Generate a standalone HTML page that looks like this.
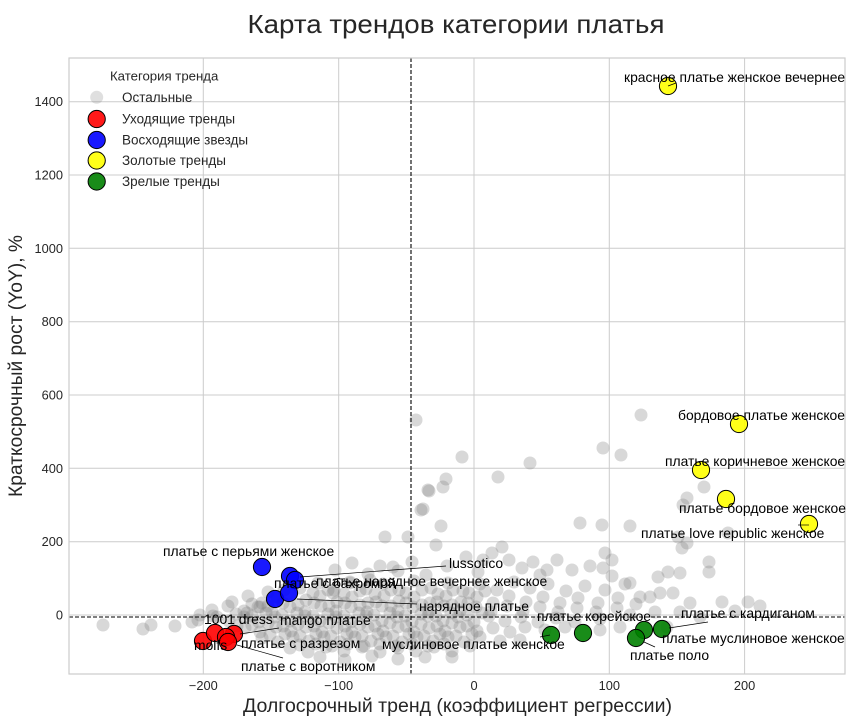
<!DOCTYPE html>
<html>
<head>
<meta charset="utf-8">
<style>
  html,body{margin:0;padding:0;background:#fff;}
  svg{display:block;}
  text{font-family:"Liberation Sans",Arial,sans-serif;}
</style>
</head>
<body>
<svg width="854" height="726" viewBox="0 0 854 726" xmlns="http://www.w3.org/2000/svg">
<rect width="854" height="726" fill="#ffffff"/>

<!-- Title -->
<text x="456" y="33" font-size="26" text-anchor="middle" fill="#262626" textLength="417" lengthAdjust="spacingAndGlyphs">Карта трендов категории платья</text>

<!-- Grid -->
<g stroke="#cccccc" stroke-width="1">
  <line x1="203.3" y1="58" x2="203.3" y2="674"/>
  <line x1="338.7" y1="58" x2="338.7" y2="674"/>
  <line x1="474" y1="58" x2="474" y2="674"/>
  <line x1="609.3" y1="58" x2="609.3" y2="674"/>
  <line x1="744.6" y1="58" x2="744.6" y2="674"/>
  <line x1="69" y1="615" x2="845" y2="615"/>
  <line x1="69" y1="541.7" x2="845" y2="541.7"/>
  <line x1="69" y1="468.3" x2="845" y2="468.3"/>
  <line x1="69" y1="395" x2="845" y2="395"/>
  <line x1="69" y1="321.7" x2="845" y2="321.7"/>
  <line x1="69" y1="248.3" x2="845" y2="248.3"/>
  <line x1="69" y1="175" x2="845" y2="175"/>
  <line x1="69" y1="101.7" x2="845" y2="101.7"/>
</g>

<defs><clipPath id="pa"><rect x="69" y="58" width="776" height="616"/></clipPath></defs>

<!-- Grey points -->
<g fill="#7f7f7f" fill-opacity="0.3" clip-path="url(#pa)">
<circle cx="416" cy="420" r="6.5"/><circle cx="641" cy="415" r="6.5"/><circle cx="603" cy="448" r="6.5"/><circle cx="621" cy="455" r="6.5"/>
<circle cx="462" cy="457" r="6.5"/><circle cx="530" cy="463" r="6.5"/><circle cx="498" cy="477" r="6.5"/><circle cx="446" cy="479" r="6.5"/>
<circle cx="443" cy="487" r="6.5"/><circle cx="429" cy="491" r="6.5"/><circle cx="423" cy="509" r="6.5"/><circle cx="441" cy="526" r="6.5"/>
<circle cx="385" cy="537" r="6.5"/><circle cx="408" cy="537" r="6.5"/><circle cx="436" cy="545" r="6.5"/><circle cx="502" cy="547" r="6.5"/>
<circle cx="580" cy="523" r="6.5"/><circle cx="602" cy="525" r="6.5"/><circle cx="630" cy="526" r="6.5"/><circle cx="704" cy="487" r="6.5"/>
<circle cx="687" cy="498" r="6.5"/><circle cx="683" cy="505" r="6.5"/><circle cx="728" cy="533" r="6.5"/><circle cx="687" cy="543" r="6.5"/>
<circle cx="678" cy="537" r="6.5"/><circle cx="682" cy="548" r="6.5"/><circle cx="605" cy="553" r="6.5"/><circle cx="612" cy="560" r="6.5"/>
<circle cx="603" cy="568" r="6.5"/><circle cx="709" cy="562" r="6.5"/><circle cx="709" cy="572" r="6.5"/><circle cx="658" cy="577" r="6.5"/>
<circle cx="668" cy="572" r="6.5"/><circle cx="680" cy="573" r="6.5"/><circle cx="748" cy="602" r="6.5"/><circle cx="722" cy="602" r="6.5"/>
<circle cx="630" cy="583" r="6.5"/><circle cx="660" cy="593" r="6.5"/><circle cx="673" cy="593" r="6.5"/><circle cx="640" cy="597" r="6.5"/>
<circle cx="690" cy="603" r="6.5"/><circle cx="650" cy="597" r="6.5"/><circle cx="557" cy="560" r="6.5"/><circle cx="533" cy="562" r="6.5"/>
<circle cx="547" cy="570" r="6.5"/><circle cx="483" cy="560" r="6.5"/><circle cx="421" cy="510" r="6.5"/><circle cx="393" cy="567" r="6.5"/>

<circle cx="335" cy="570" r="6.5"/><circle cx="352" cy="563" r="6.5"/><circle cx="368" cy="574" r="6.5"/><circle cx="380" cy="566" r="6.5"/>
<circle cx="398" cy="571" r="6.5"/><circle cx="412" cy="562" r="6.5"/><circle cx="426" cy="575" r="6.5"/><circle cx="447" cy="566" r="6.5"/>
<circle cx="466" cy="557" r="6.5"/><circle cx="478" cy="572" r="6.5"/><circle cx="492" cy="553" r="6.5"/><circle cx="509" cy="560" r="6.5"/>
<circle cx="522" cy="568" r="6.5"/><circle cx="540" cy="575" r="6.5"/><circle cx="572" cy="570" r="6.5"/><circle cx="590" cy="566" r="6.5"/>
<circle cx="612" cy="576" r="6.5"/>

<circle cx="300" cy="588" r="6.5"/><circle cx="318" cy="583" r="6.5"/><circle cx="334" cy="590" r="6.5"/><circle cx="350" cy="582" r="6.5"/>
<circle cx="366" cy="589" r="6.5"/><circle cx="383" cy="584" r="6.5"/><circle cx="399" cy="590" r="6.5"/><circle cx="414" cy="581" r="6.5"/>
<circle cx="431" cy="588" r="6.5"/><circle cx="448" cy="583" r="6.5"/><circle cx="463" cy="591" r="6.5"/><circle cx="480" cy="584" r="6.5"/>
<circle cx="497" cy="590" r="6.5"/><circle cx="514" cy="582" r="6.5"/><circle cx="530" cy="588" r="6.5"/><circle cx="548" cy="584" r="6.5"/>
<circle cx="566" cy="591" r="6.5"/><circle cx="585" cy="586" r="6.5"/><circle cx="605" cy="590" r="6.5"/><circle cx="625" cy="584" r="6.5"/>

<circle cx="232" cy="602" r="6.5"/><circle cx="248" cy="596" r="6.5"/><circle cx="262" cy="603" r="6.5"/><circle cx="277" cy="597" r="6.5"/>
<circle cx="306" cy="600" r="6.5"/><circle cx="320" cy="596" r="6.5"/><circle cx="337" cy="602" r="6.5"/><circle cx="352" cy="597" r="6.5"/>
<circle cx="368" cy="603" r="6.5"/><circle cx="384" cy="596" r="6.5"/><circle cx="399" cy="601" r="6.5"/><circle cx="414" cy="597" r="6.5"/>
<circle cx="430" cy="603" r="6.5"/><circle cx="446" cy="596" r="6.5"/><circle cx="461" cy="602" r="6.5"/><circle cx="477" cy="597" r="6.5"/>
<circle cx="493" cy="603" r="6.5"/><circle cx="509" cy="596" r="6.5"/><circle cx="526" cy="602" r="6.5"/><circle cx="543" cy="597" r="6.5"/>
<circle cx="560" cy="603" r="6.5"/><circle cx="578" cy="598" r="6.5"/><circle cx="598" cy="603" r="6.5"/><circle cx="618" cy="598" r="6.5"/>
<circle cx="636" cy="604" r="6.5"/>

<circle cx="212" cy="610" r="6.5"/><circle cx="228" cy="606" r="6.5"/><circle cx="244" cy="611" r="6.5"/><circle cx="258" cy="607" r="6.5"/>
<circle cx="272" cy="612" r="6.5"/><circle cx="290" cy="607" r="6.5"/><circle cx="305" cy="612" r="6.5"/><circle cx="321" cy="606" r="6.5"/>
<circle cx="336" cy="611" r="6.5"/><circle cx="351" cy="607" r="6.5"/><circle cx="367" cy="612" r="6.5"/><circle cx="382" cy="606" r="6.5"/>
<circle cx="398" cy="611" r="6.5"/><circle cx="413" cy="607" r="6.5"/><circle cx="429" cy="612" r="6.5"/><circle cx="444" cy="606" r="6.5"/>
<circle cx="460" cy="611" r="6.5"/><circle cx="476" cy="607" r="6.5"/><circle cx="491" cy="612" r="6.5"/><circle cx="507" cy="606" r="6.5"/>
<circle cx="523" cy="611" r="6.5"/><circle cx="540" cy="607" r="6.5"/><circle cx="558" cy="612" r="6.5"/><circle cx="577" cy="608" r="6.5"/>
<circle cx="596" cy="612" r="6.5"/><circle cx="617" cy="608" r="6.5"/><circle cx="655" cy="612" r="6.5"/><circle cx="680" cy="612" r="6.5"/>

<circle cx="198" cy="620" r="6.5"/><circle cx="213" cy="616" r="6.5"/><circle cx="229" cy="621" r="6.5"/><circle cx="244" cy="617" r="6.5"/>
<circle cx="259" cy="622" r="6.5"/><circle cx="275" cy="617" r="6.5"/><circle cx="290" cy="621" r="6.5"/><circle cx="305" cy="616" r="6.5"/>
<circle cx="320" cy="621" r="6.5"/><circle cx="336" cy="617" r="6.5"/><circle cx="351" cy="622" r="6.5"/><circle cx="366" cy="616" r="6.5"/>
<circle cx="382" cy="621" r="6.5"/><circle cx="397" cy="617" r="6.5"/><circle cx="412" cy="622" r="6.5"/><circle cx="428" cy="616" r="6.5"/>
<circle cx="443" cy="621" r="6.5"/><circle cx="458" cy="617" r="6.5"/><circle cx="474" cy="622" r="6.5"/><circle cx="489" cy="616" r="6.5"/>
<circle cx="505" cy="621" r="6.5"/><circle cx="521" cy="617" r="6.5"/><circle cx="538" cy="622" r="6.5"/><circle cx="556" cy="618" r="6.5"/>
<circle cx="575" cy="622" r="6.5"/><circle cx="600" cy="619" r="6.5"/><circle cx="630" cy="615" r="6.5"/><circle cx="700" cy="617" r="6.5"/>
<circle cx="735" cy="611" r="6.5"/><circle cx="760" cy="606" r="6.5"/>

<circle cx="245" cy="628" r="6.5"/><circle cx="260" cy="632" r="6.5"/><circle cx="276" cy="627" r="6.5"/><circle cx="291" cy="631" r="6.5"/>
<circle cx="306" cy="627" r="6.5"/><circle cx="322" cy="632" r="6.5"/><circle cx="337" cy="628" r="6.5"/><circle cx="352" cy="632" r="6.5"/>
<circle cx="368" cy="627" r="6.5"/><circle cx="383" cy="631" r="6.5"/><circle cx="398" cy="627" r="6.5"/><circle cx="414" cy="632" r="6.5"/>
<circle cx="429" cy="628" r="6.5"/><circle cx="445" cy="631" r="6.5"/><circle cx="460" cy="627" r="6.5"/><circle cx="477" cy="631" r="6.5"/>
<circle cx="493" cy="628" r="6.5"/><circle cx="510" cy="632" r="6.5"/><circle cx="525" cy="627" r="6.5"/><circle cx="545" cy="630" r="6.5"/>
<circle cx="565" cy="627" r="6.5"/><circle cx="600" cy="630" r="6.5"/><circle cx="620" cy="627" r="6.5"/><circle cx="667" cy="627" r="6.5"/>

<circle cx="262" cy="638" r="6.5"/><circle cx="278" cy="642" r="6.5"/><circle cx="293" cy="637" r="6.5"/><circle cx="309" cy="641" r="6.5"/>
<circle cx="324" cy="637" r="6.5"/><circle cx="340" cy="642" r="6.5"/><circle cx="355" cy="637" r="6.5"/><circle cx="371" cy="641" r="6.5"/>
<circle cx="386" cy="637" r="6.5"/><circle cx="402" cy="642" r="6.5"/><circle cx="417" cy="637" r="6.5"/><circle cx="433" cy="641" r="6.5"/>
<circle cx="448" cy="637" r="6.5"/><circle cx="464" cy="642" r="6.5"/><circle cx="480" cy="637" r="6.5"/><circle cx="500" cy="641" r="6.5"/>
<circle cx="520" cy="640" r="6.5"/>

<circle cx="290" cy="648" r="6.5"/><circle cx="308" cy="652" r="6.5"/><circle cx="326" cy="647" r="6.5"/><circle cx="344" cy="651" r="6.5"/>
<circle cx="362" cy="647" r="6.5"/><circle cx="380" cy="652" r="6.5"/><circle cx="398" cy="648" r="6.5"/><circle cx="416" cy="651" r="6.5"/>
<circle cx="434" cy="647" r="6.5"/><circle cx="452" cy="651" r="6.5"/><circle cx="470" cy="646" r="6.5"/>
<circle cx="320" cy="657" r="6.5"/><circle cx="345" cy="660" r="6.5"/><circle cx="372" cy="656" r="6.5"/><circle cx="398" cy="659" r="6.5"/>
<circle cx="425" cy="657" r="6.5"/><circle cx="452" cy="657" r="6.5"/>

<circle cx="103" cy="625" r="6.5"/><circle cx="143" cy="629" r="6.5"/><circle cx="151" cy="625" r="6.5"/><circle cx="175" cy="626" r="6.5"/>
<circle cx="192" cy="622" r="6.5"/><circle cx="200" cy="615" r="6.5"/><circle cx="217" cy="617" r="6.5"/><circle cx="237" cy="626" r="6.5"/>
<circle cx="247" cy="613" r="6.5"/><circle cx="260" cy="607" r="6.5"/><circle cx="333" cy="593" r="6.5"/><circle cx="350" cy="583" r="6.5"/>
<circle cx="370" cy="580" r="6.5"/><circle cx="428" cy="490" r="6.5"/>

<!-- second layer dense core -->
<circle cx="268" cy="592" r="6.5"/><circle cx="284" cy="590" r="6.5"/><circle cx="313" cy="593" r="6.5"/><circle cx="328" cy="590" r="6.5"/>
<circle cx="344" cy="594" r="6.5"/><circle cx="360" cy="591" r="6.5"/><circle cx="375" cy="594" r="6.5"/><circle cx="391" cy="590" r="6.5"/>
<circle cx="406" cy="593" r="6.5"/><circle cx="422" cy="590" r="6.5"/><circle cx="438" cy="594" r="6.5"/><circle cx="453" cy="590" r="6.5"/>
<circle cx="469" cy="593" r="6.5"/><circle cx="485" cy="591" r="6.5"/>
<circle cx="252" cy="604" r="6.5"/><circle cx="268" cy="606" r="6.5"/><circle cx="283" cy="603" r="6.5"/><circle cx="298" cy="605" r="6.5"/>
<circle cx="314" cy="603" r="6.5"/><circle cx="329" cy="606" r="6.5"/><circle cx="345" cy="603" r="6.5"/><circle cx="360" cy="605" r="6.5"/>
<circle cx="376" cy="602" r="6.5"/><circle cx="391" cy="606" r="6.5"/><circle cx="406" cy="603" r="6.5"/><circle cx="422" cy="605" r="6.5"/>
<circle cx="437" cy="602" r="6.5"/><circle cx="452" cy="605" r="6.5"/><circle cx="468" cy="603" r="6.5"/>
<circle cx="236" cy="614" r="6.5"/><circle cx="252" cy="616" r="6.5"/><circle cx="266" cy="613" r="6.5"/><circle cx="282" cy="615" r="6.5"/>
<circle cx="297" cy="613" r="6.5"/><circle cx="313" cy="616" r="6.5"/><circle cx="328" cy="614" r="6.5"/><circle cx="344" cy="616" r="6.5"/>
<circle cx="359" cy="613" r="6.5"/><circle cx="374" cy="615" r="6.5"/><circle cx="390" cy="613" r="6.5"/><circle cx="405" cy="616" r="6.5"/>
<circle cx="421" cy="614" r="6.5"/><circle cx="436" cy="616" r="6.5"/><circle cx="451" cy="613" r="6.5"/><circle cx="467" cy="615" r="6.5"/>
<circle cx="482" cy="613" r="6.5"/>
<circle cx="252" cy="625" r="6.5"/><circle cx="268" cy="623" r="6.5"/><circle cx="283" cy="626" r="6.5"/><circle cx="298" cy="624" r="6.5"/>
<circle cx="314" cy="626" r="6.5"/><circle cx="329" cy="623" r="6.5"/><circle cx="345" cy="626" r="6.5"/><circle cx="360" cy="624" r="6.5"/>
<circle cx="375" cy="626" r="6.5"/><circle cx="390" cy="623" r="6.5"/><circle cx="406" cy="626" r="6.5"/><circle cx="421" cy="624" r="6.5"/>
<circle cx="437" cy="626" r="6.5"/><circle cx="452" cy="623" r="6.5"/><circle cx="467" cy="626" r="6.5"/>
<circle cx="270" cy="635" r="6.5"/><circle cx="285" cy="634" r="6.5"/><circle cx="300" cy="636" r="6.5"/><circle cx="316" cy="634" r="6.5"/>
<circle cx="331" cy="636" r="6.5"/><circle cx="347" cy="634" r="6.5"/><circle cx="362" cy="636" r="6.5"/><circle cx="378" cy="634" r="6.5"/>
<circle cx="393" cy="636" r="6.5"/><circle cx="409" cy="634" r="6.5"/><circle cx="424" cy="636" r="6.5"/><circle cx="440" cy="634" r="6.5"/>
<circle cx="456" cy="636" r="6.5"/><circle cx="472" cy="634" r="6.5"/>
<circle cx="300" cy="645" r="6.5"/><circle cx="316" cy="644" r="6.5"/><circle cx="332" cy="646" r="6.5"/><circle cx="348" cy="644" r="6.5"/>
<circle cx="364" cy="646" r="6.5"/><circle cx="380" cy="644" r="6.5"/><circle cx="396" cy="646" r="6.5"/><circle cx="412" cy="644" r="6.5"/>
<circle cx="428" cy="646" r="6.5"/><circle cx="444" cy="644" r="6.5"/>
</g>

<!-- Colored points -->
<g stroke="#000" stroke-width="1" fill-opacity="0.9">
  <circle cx="203" cy="641" r="8.6" fill="#ff0000"/>
  <circle cx="215" cy="633" r="8.6" fill="#ff0000"/>
  <circle cx="234" cy="634" r="8.6" fill="#ff0000"/>
  <circle cx="226" cy="637" r="8.6" fill="#ff0000"/>
  <circle cx="228" cy="642" r="8.6" fill="#ff0000"/>
  <circle cx="262" cy="567" r="8.6" fill="#0000ff"/>
  <circle cx="290" cy="576" r="8.6" fill="#0000ff"/>
  <circle cx="295" cy="580" r="8.6" fill="#0000ff"/>
  <circle cx="275" cy="599" r="8.6" fill="#0000ff"/>
  <circle cx="289" cy="593" r="8.6" fill="#0000ff"/>
  <circle cx="668" cy="86" r="8.6" fill="#ffff00"/>
  <circle cx="739" cy="424" r="8.6" fill="#ffff00"/>
  <circle cx="701" cy="470" r="8.6" fill="#ffff00"/>
  <circle cx="726" cy="499" r="8.6" fill="#ffff00"/>
  <circle cx="809" cy="524" r="8.6" fill="#ffff00"/>
  <circle cx="551" cy="635" r="8.6" fill="#008000"/>
  <circle cx="583" cy="633" r="8.6" fill="#008000"/>
  <circle cx="644" cy="630" r="8.6" fill="#008000"/>
  <circle cx="662" cy="629" r="8.6" fill="#008000"/>
  <circle cx="636" cy="638" r="8.6" fill="#008000"/>
</g>

<!-- Dashed reference lines -->
<g stroke="#000" stroke-width="1.1" stroke-dasharray="4,2" fill="none">
  <line x1="69" y1="617" x2="845" y2="617"/>
  <line x1="411" y1="58" x2="411" y2="674"/>
</g>

<!-- Frame -->
<rect x="69" y="58" width="776" height="616" fill="none" stroke="#cccccc" stroke-width="1.2"/>

<!-- Annotation connector lines -->
<g stroke="#000" stroke-width="0.7" fill="none">
  <line x1="300" y1="577" x2="446" y2="566"/>
  <line x1="297" y1="599" x2="417" y2="604"/>
  <line x1="240" y1="634" x2="279" y2="628"/>
  <line x1="237" y1="645" x2="283" y2="658"/>
  <line x1="669" y1="628" x2="708" y2="622"/>
  <line x1="644" y1="642" x2="655" y2="647"/>
  <line x1="798" y1="525" x2="809" y2="525"/>
  <line x1="540" y1="637" x2="550" y2="635"/>
  <line x1="668" y1="86" x2="676" y2="83"/>
</g>

<!-- Annotation texts -->
<g font-size="13.9" fill="#000">
  <text x="624" y="82">красное платье женское вечернее</text>
  <text x="678" y="420">бордовое платье женское</text>
  <text x="665" y="466">платье коричневое женское</text>
  <text x="679" y="513">платье бордовое женское</text>
  <text x="641" y="538">платье love republic женское</text>
  <text x="163" y="556">платье с перьями женское</text>
  <text x="449" y="568">lussotico</text>
  <text x="316" y="586">платье нарядное вечернее женское</text>
  <text x="274" y="588">платье с бахромой</text>
  <text x="419" y="611">нарядное платье</text>
  <text x="204" y="624">1001 dress</text>
  <text x="280" y="625">mango платье</text>
  <text x="194" y="650">molfs</text>
  <text x="241" y="648">платье с разрезом</text>
  <text x="241" y="671">платье с воротником</text>
  <text x="382" y="649">муслиновое платье женское</text>
  <text x="537" y="621">платье корейское</text>
  <text x="681" y="618">платье с кардиганом</text>
  <text x="662" y="643">платье муслиновое женское</text>
  <text x="630" y="660">платье поло</text>
</g>

<!-- Y tick labels -->
<g font-size="12.8" fill="#262626" text-anchor="end">
  <text x="63" y="619.5">0</text>
  <text x="63" y="546.2">200</text>
  <text x="63" y="472.8">400</text>
  <text x="63" y="399.5">600</text>
  <text x="63" y="326.2">800</text>
  <text x="63" y="252.8">1000</text>
  <text x="63" y="179.5">1200</text>
  <text x="63" y="106.2">1400</text>
</g>

<!-- X tick labels -->
<g font-size="12.8" fill="#262626" text-anchor="middle">
  <text x="203.3" y="690">−200</text>
  <text x="338.7" y="690">−100</text>
  <text x="474" y="690">0</text>
  <text x="609.3" y="690">100</text>
  <text x="744.6" y="690">200</text>
</g>

<!-- Axis labels -->
<text x="457.5" y="712" font-size="19" fill="#262626" text-anchor="middle" textLength="429" lengthAdjust="spacingAndGlyphs">Долгосрочный тренд (коэффициент регрессии)</text>
<text transform="translate(22,366) rotate(-90)" x="0" y="0" font-size="19" fill="#262626" text-anchor="middle" textLength="262" lengthAdjust="spacingAndGlyphs">Краткосрочный рост (YoY), %</text>

<!-- Legend -->
<g>
  <text x="110" y="80.5" font-size="13.2" fill="#262626">Категория тренда</text>
  <circle cx="96.7" cy="97.3" r="6.5" fill="#7f7f7f" fill-opacity="0.25"/>
  <circle cx="96.7" cy="119" r="8.6" fill="#ff0000" fill-opacity="0.9" stroke="#000" stroke-width="1"/>
  <circle cx="96.7" cy="140" r="8.6" fill="#0000ff" fill-opacity="0.9" stroke="#000" stroke-width="1"/>
  <circle cx="96.7" cy="160.5" r="8.6" fill="#ffff00" fill-opacity="0.9" stroke="#000" stroke-width="1"/>
  <circle cx="96.7" cy="181.5" r="8.6" fill="#008000" fill-opacity="0.9" stroke="#000" stroke-width="1"/>
  <g font-size="13.5" fill="#262626">
    <text x="122" y="102">Остальные</text>
    <text x="122" y="123.5">Уходящие тренды</text>
    <text x="122" y="144.5">Восходящие звезды</text>
    <text x="122" y="165">Золотые тренды</text>
    <text x="122" y="186">Зрелые тренды</text>
  </g>
</g>
</svg>
</body>
</html>
